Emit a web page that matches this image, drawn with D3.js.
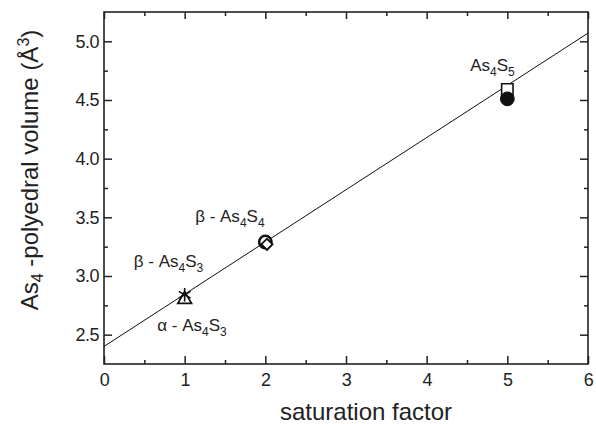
<!DOCTYPE html>
<html>
<head>
<meta charset="utf-8">
<script src="https://cdn.jsdelivr.net/npm/d3@7"></script>
<style>
  body { margin: 0; background: #fff; }
  svg { font-family: "Liberation Sans", Arial, sans-serif; }
  .axis text { font-size: 18px; fill: #222; }
  .axis line { stroke: #222; stroke-width: 1.5; }
</style>
</head>
<body>
<div id="chart"></div>
<script>
// chart values
var xTicks = [0, 1, 2, 3, 4, 5, 6];
var yTicks = [2.5, 3.0, 3.5, 4.0, 4.5, 5.0];
var xMinor = [0.5, 1.5, 2.5, 3.5, 4.5, 5.5];
var yMinor = [2.75, 3.25, 3.75, 4.25, 4.75];

// measured points
var pointX = [1, 1, 2, 2.02, 5, 5];
var pointY = [2.84, 2.80, 3.29, 3.27, 4.59, 4.51];
var pointShape = ["asterisk", "triangle", "circle", "diamond", "square", "dot"];

// linear fit
var fitX = [0, 6];
var fitY = [2.40, 5.07];

// annotations (anchor in data units, {} = subscript)
var labelText = ["\u03b2 - As{4}S{3}", "\u03b1 - As{4}S{3}", "\u03b2 - As{4}S{4}", "As{4}S{5}"];
var labelX = [0.37, 0.66, 1.13, 4.54];
var labelY = [3.075, 2.53, 3.46, 4.75];

var svgWidth = 596;
var svgHeight = 424;

var margin = { top: 12, right: 8, bottom: 60, left: 104 };
var width = svgWidth - margin.left - margin.right;
var height = svgHeight - margin.top - margin.bottom;

var svg = d3.select("#chart")
    .append("svg")
    .attr("width", svgWidth)
    .attr("height", svgHeight);

var chartGroup = svg.append("g")
    .attr("transform", `translate(${margin.left}, ${margin.top})`);

var xScale = d3.scaleLinear().domain([0, 6]).range([0, width]);
var yScale = d3.scaleLinear().domain([2.25, 5.25]).range([height, 0]);

// axes, ticks pointing inwards on all four sides
function drawAxis(axis, transform, labels) {
    var g = chartGroup.append("g")
        .attr("class", "axis")
        .attr("transform", transform)
        .call(axis);
    g.select(".domain").remove();
    if (!labels) g.selectAll("text").remove();
    return g;
}

drawAxis(d3.axisBottom(xScale).tickValues(xTicks).tickSize(-8).tickPadding(9).tickFormat(d3.format("d")),
    `translate(0, ${height})`, true);
drawAxis(d3.axisBottom(xScale).tickValues(xMinor).tickSize(-4), `translate(0, ${height})`, false);
drawAxis(d3.axisTop(xScale).tickValues(xTicks).tickSize(-7), "translate(0,0)", false);
drawAxis(d3.axisTop(xScale).tickValues(xMinor).tickSize(-4), "translate(0,0)", false);

drawAxis(d3.axisLeft(yScale).tickValues(yTicks).tickSize(-8).tickPadding(5).tickFormat(d3.format(".1f")),
    "translate(0,0)", true);
drawAxis(d3.axisLeft(yScale).tickValues(yMinor).tickSize(-4), "translate(0,0)", false);
drawAxis(d3.axisRight(yScale).tickValues(yTicks).tickSize(-8), `translate(${width},0)`, false);
drawAxis(d3.axisRight(yScale).tickValues(yMinor).tickSize(-4), `translate(${width},0)`, false);

chartGroup.selectAll(".axis text").attr("letter-spacing", "-0.5px");

// frame
chartGroup.append("rect")
    .attr("width", width)
    .attr("height", height)
    .attr("fill", "none")
    .attr("stroke", "#222")
    .attr("stroke-width", 1.6);

// fit line
chartGroup.append("clipPath").attr("id", "plotclip")
    .append("rect").attr("width", width).attr("height", height);

chartGroup.append("path")
    .datum(fitX.map((x, i) => [x, fitY[i]]))
    .attr("clip-path", "url(#plotclip)")
    .attr("d", d3.line().x(d => xScale(d[0])).y(d => yScale(d[1])))
    .attr("fill", "none")
    .attr("stroke", "#111")
    .attr("stroke-width", 1);

// markers
var symbolSpec = {
    asterisk: { type: d3.symbolAsterisk, size: 130, fill: "none", rot: 0, sw: 1.6 },
    triangle: { type: d3.symbolTriangle, size: 80, fill: "none", rot: 0, sw: 1.8 },
    circle: { type: d3.symbolCircle, size: 120, fill: "white", rot: 0, sw: 2.6 },
    diamond: { type: d3.symbolSquare, size: 62, fill: "white", rot: 45, sw: 1.8 },
    square: { type: d3.symbolSquare, size: 130, fill: "white", rot: 0, sw: 1.6 },
    dot: { type: d3.symbolCircle, size: 150, fill: "#111", rot: 0, sw: 1 }
};

chartGroup.selectAll(".marker")
    .data(pointX.map((x, i) => ({ x: x, y: pointY[i], shape: pointShape[i] })))
    .enter()
    .append("path")
    .attr("class", "marker")
    .attr("transform", d => `translate(${xScale(d.x)}, ${yScale(d.y)}) rotate(${symbolSpec[d.shape].rot})`)
    .attr("d", d => d3.symbol(symbolSpec[d.shape].type, symbolSpec[d.shape].size)())
    .attr("fill", d => symbolSpec[d.shape].fill)
    .attr("stroke", "#111")
    .attr("stroke-width", d => symbolSpec[d.shape].sw);

// text with {sub} and ^{sup} parts
function richText(sel, str, smallSize) {
    var re = /(\^?\{[^}]*\}|[^{^]+)/g;
    var parts = str.match(re);
    var shift = 0;
    parts.forEach(function(p) {
        var t = sel.append("tspan");
        if (p[0] === "{") {
            t.text(p.slice(1, -1)).attr("font-size", smallSize).attr("dy", 5 - shift);
            shift = 5;
        } else if (p[0] === "^") {
            t.text(p.slice(2, -1)).attr("font-size", smallSize).attr("dy", -9 - shift);
            shift = -9;
        } else {
            t.text(p).attr("dy", -shift);
            shift = 0;
        }
    });
}

labelText.forEach(function(s, i) {
    var t = chartGroup.append("text")
        .attr("x", xScale(labelX[i]))
        .attr("y", yScale(labelY[i]))
        .attr("font-size", "17px")
        .attr("fill", "#222");
    richText(t, s, "12px");
});

// axis titles
svg.append("text")
    .attr("x", 366)
    .attr("y", 420)
    .attr("text-anchor", "middle")
    .attr("font-size", "24px")
    .attr("fill", "#222")
    .text("saturation factor");

var yTitle = svg.append("text")
    .attr("transform", "translate(38, 170) rotate(-90)")
    .attr("text-anchor", "middle")
    .attr("font-size", "24px")
    .attr("fill", "#222");
richText(yTitle, "As{4} -polyedral volume (\u00c5^{3})", "16px");
</script>
</body>
</html>
